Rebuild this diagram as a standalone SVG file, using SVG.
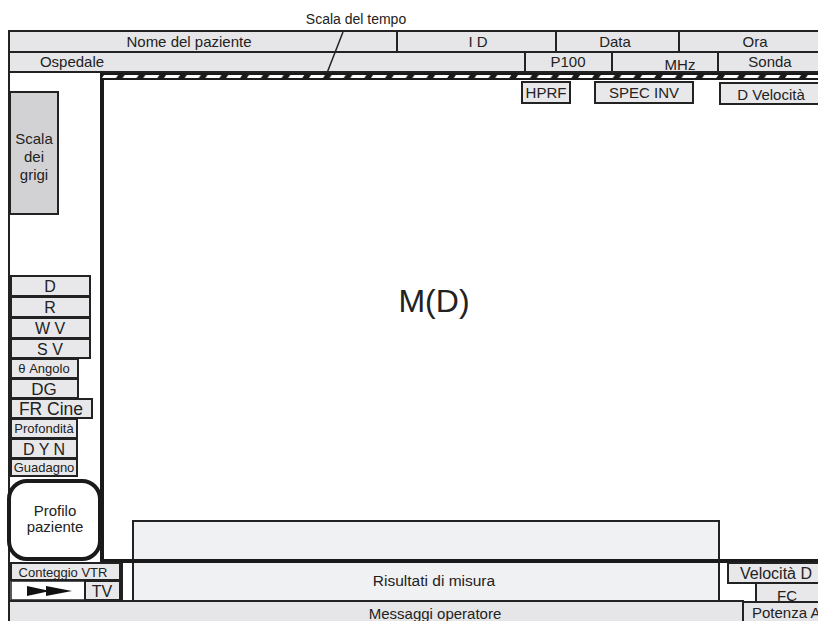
<svg xmlns="http://www.w3.org/2000/svg" width="818" height="621" viewBox="0 0 818 621">
<style>
text{font-family:"Liberation Sans",Arial,sans-serif;fill:#222;text-anchor:middle}
.hd{fill:#e6e6e8;stroke:#222;stroke-width:2}
.bx{fill:#e8e8ea;stroke:#222;stroke-width:2}
.ln{stroke:#222;stroke-width:2;fill:none}
.thick{stroke:#1a1a1a;stroke-width:4;fill:none}
.t15{font-size:15px}
.t16{font-size:16px}
.t14{font-size:14px}
.t13{font-size:13px}
</style>
<defs>
<pattern id="dash" patternUnits="userSpaceOnUse" x="100" y="73" width="20.7" height="7">
<rect width="20.7" height="7" fill="#1a1a1a"/>
<polygon points="4,2 18,2 16,5 2,5" fill="#fff"/>
</pattern>
</defs>
<rect width="818" height="621" fill="#fff"/>

<g id="header">
<rect class="hd" x="9" y="31" width="812" height="21"/>
<rect class="hd" x="9" y="52" width="812" height="20"/>
<line class="ln" x1="397" y1="31" x2="397" y2="52"/>
<line class="ln" x1="556" y1="31" x2="556" y2="52"/>
<line class="ln" x1="679" y1="31" x2="679" y2="52"/>
<line class="ln" x1="525" y1="52" x2="525" y2="72"/>
<line class="ln" x1="612" y1="52" x2="612" y2="72"/>
<line class="ln" x1="718" y1="52" x2="718" y2="72"/>
<text class="t15" x="189" y="47">Nome del paziente</text>
<text class="t15" x="478" y="47">I D</text>
<text class="t15" x="615" y="47">Data</text>
<text class="t15" x="755" y="47">Ora</text>
<text class="t15" x="72" y="67">Ospedale</text>
<text class="t15" x="568" y="67">P100</text>
<text class="t15" x="680" y="70">MHz</text>
<text class="t15" x="770" y="67">Sonda</text>
</g>

<g id="scala-tempo">
<text class="t14" x="356" y="24">Scala del tempo</text>
<line x1="343" y1="32" x2="327" y2="73" stroke="#222" stroke-width="1.5"/>
</g>

<g id="time-bar">
<rect x="100" y="73" width="718" height="7" fill="url(#dash)"/>
</g>

<g id="left-border">
<line class="ln" x1="9" y1="72" x2="9" y2="621"/>
</g>

<g id="image-area">
<line class="thick" x1="102" y1="78" x2="102" y2="562"/>
<line class="thick" x1="100" y1="561" x2="818" y2="561"/>
<text x="434" y="312" style="font-size:32px">M(D)</text>
</g>

<g id="hprf"><rect class="bx" x="522" y="82" width="48" height="21"/><text class="t15" x="546" y="98">HPRF</text></g>
<g id="spec-inv"><rect class="bx" x="595" y="82" width="98" height="21"/><text class="t15" x="644" y="98">SPEC INV</text></g>
<g id="d-velocita"><rect class="bx" x="720" y="83" width="100" height="21"/><text class="t15" x="771" y="100">D Velocità</text></g>

<g id="scala-grigi">
<rect x="10" y="92" width="48" height="122" fill="#d2d2d4" stroke="#222" stroke-width="2"/>
<text class="t15" x="34" y="144">Scala</text>
<text class="t15" x="34" y="162">dei</text>
<text class="t15" x="34" y="180">grigi</text>
</g>

<g id="d"><rect class="bx" x="11" y="276" width="79" height="20"/><text class="t16" x="50" y="292">D</text></g>
<g id="r"><rect class="bx" x="11" y="297" width="79" height="20"/><text class="t16" x="50" y="313">R</text></g>
<g id="wv"><rect class="bx" x="11" y="318" width="79" height="20"/><text class="t16" x="50" y="334">W V</text></g>
<g id="sv"><rect class="bx" x="11" y="339" width="79" height="19"/><text class="t16" x="50" y="355">S V</text></g>
<g id="angolo"><rect class="bx" x="11" y="359" width="67" height="19"/><text class="t13" x="44" y="373">θ Angolo</text></g>
<g id="dg"><rect class="bx" x="11" y="379" width="67" height="19"/><text x="44" y="395" style="font-size:17px">DG</text></g>
<g id="fr-cine"><rect class="bx" x="11" y="399" width="81" height="19"/><text x="51" y="415" style="font-size:17.5px">FR Cine</text></g>
<g id="profondita"><rect class="bx" x="11" y="419" width="66" height="19"/><text class="t13" x="44" y="433">Profondità</text></g>
<g id="dyn"><rect class="bx" x="11" y="439" width="66" height="19"/><text class="t16" x="44" y="455">D Y N</text></g>
<g id="guadagno"><rect class="bx" x="11" y="459" width="66" height="17"/><text class="t13" x="44" y="472">Guadagno</text></g>

<g id="profilo-paziente">
<rect x="9" y="481" width="91" height="78" rx="18" fill="#fff" stroke="#1a1a1a" stroke-width="4"/>
<text class="t15" x="55" y="516">Profilo</text>
<text class="t15" x="55" y="532">paziente</text>
</g>

<g id="risultati">
<rect x="133" y="521" width="586" height="81" fill="#f0f1f3" stroke="#222" stroke-width="2"/>
<line class="thick" x1="133" y1="561" x2="719" y2="561"/>
<text x="434" y="586" style="font-size:15.5px">Risultati di misura</text>
</g>

<g id="conteggio-vtr"><rect class="bx" x="11" y="563" width="109" height="17"/><text class="t13" x="63" y="577">Conteggio VTR</text></g>
<g id="play">
<rect x="11" y="581" width="74" height="19" fill="#fff" stroke="#222" stroke-width="1.5"/>
<polygon points="27,586 50,591 27,596" fill="#111"/>
<polygon points="46,586 72,591 46,596" fill="#111"/>
</g>
<g id="tv"><rect class="bx" x="85" y="581" width="35" height="19"/><text class="t16" x="102" y="597">TV</text></g>
<line class="ln" x1="122" y1="563" x2="122" y2="601"/>

<g id="messaggi"><rect class="hd" x="9" y="601" width="734" height="22"/><text class="t15" x="435" y="619">Messaggi operatore</text></g>
<g id="velocita-d"><rect class="bx" x="728" y="563" width="92" height="20"/><text class="t16" x="776" y="579">Velocità D</text></g>
<g id="fc"><rect class="bx" x="756" y="583" width="64" height="19"/><text class="t15" x="787" y="601">FC</text></g>
<g id="potenza"><rect class="hd" x="743" y="602" width="78" height="21"/><text class="t15" x="752" y="618" style="text-anchor:start">Potenza A</text></g>
</svg>
